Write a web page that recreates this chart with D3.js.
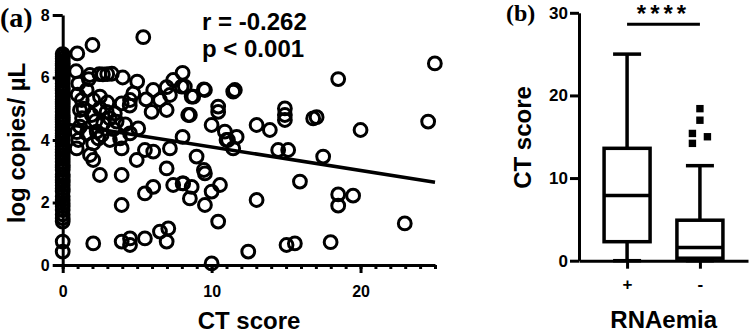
<!DOCTYPE html>
<html>
<head>
<meta charset="utf-8">
<script src="https://cdn.jsdelivr.net/npm/d3@7"></script>
<style>
body { margin: 0; background: #fff; }
svg { display: block; }
text { font-family: "Liberation Sans", Arial, sans-serif; font-weight: bold; fill: #000; }
.axis path, .axis line { stroke: #000; stroke-width: 3; }
</style>
</head>
<body>
<svg width="749" height="333"></svg>
<script>
// ---- panel (a): RNA load vs CT score ----
var zeroScoreLoads = [0.43, 0.75, 1.39, 1.5, 1.62, 1.76, 1.88, 1.97, 2.08, 2.2, 2.35, 2.45, 2.55, 2.65, 2.72,
  2.82, 2.9, 3.04, 3.12, 3.2, 3.3, 3.4, 3.5, 3.6, 3.7, 3.8, 3.9, 4.0, 4.08, 4.15, 4.22, 4.3, 4.4, 4.5, 4.58,
  4.65, 4.72, 4.8, 4.9, 5.0, 5.08, 5.15, 5.22, 5.3, 5.4, 5.5, 5.58, 5.65, 5.72, 5.8, 5.9, 6.0, 6.08, 6.15,
  6.22, 6.3, 6.38, 6.45, 6.52, 6.6, 6.68, 6.75];

var ctPoints = [
  [0.98, 6.77], [2.0, 7.04], [5.41, 7.29],
  [1.83, 6.08], [2.46, 6.11], [2.99, 6.11], [2.7, 6.1], [4.03, 6.0], [5.0, 5.87], [8.05, 6.15], [7.42, 5.92],
  [6.98, 5.69], [6.08, 5.6], [9.48, 5.62], [11.56, 5.6],
  [1.05, 5.81], [1.61, 5.6], [4.74, 5.49], [4.52, 5.28], [3.96, 5.17], [6.53, 5.28], [7.2, 5.44], [8.66, 5.39],
  [7.99, 5.71], [8.2, 5.71], [8.77, 5.39], [9.55, 5.6], [11.45, 5.55],
  [5.97, 4.9], [6.98, 4.96], [8.54, 4.8], [8.43, 4.8], [10.44, 5.07], [10.44, 4.9], [10.0, 4.48], [10.89, 4.27],
  [11.0, 4.0], [11.1, 4.0], [11.68, 4.1], [11.45, 3.73],
  [13.02, 4.48], [13.91, 4.32], [14.92, 5.01], [14.92, 4.8], [14.92, 4.64], [16.82, 4.69], [17.05, 4.73],
  [20.0, 4.32], [18.5, 5.95], [24.99, 6.45], [24.54, 4.59],
  [8.05, 4.1], [7.2, 3.73], [6.08, 3.63], [5.52, 3.68], [4.97, 3.36],
  [1.28, 5.28], [2.05, 5.28], [2.5, 5.39], [2.5, 5.01], [1.16, 4.96], [1.95, 4.8], [2.95, 4.9], [3.17, 4.69],
  [3.62, 4.59], [2.72, 4.53], [1.16, 4.43], [1.61, 4.21], [2.28, 4.27], [2.62, 4.16], [3.17, 4.0], [3.85, 4.05],
  [4.52, 4.21], [5.07, 4.37], [1.05, 4.0], [2.05, 3.89], [1.83, 3.52], [0.94, 3.73], [3.96, 3.73], [4.5, 5.1],
  [5.6, 5.3], [3.5, 4.85], [1.0, 5.45], [1.4, 5.0], [2.2, 4.6], [3.0, 5.2], [1.3, 4.7], [0.95, 4.25],
  [2.4, 4.05], [3.4, 4.35], [4.2, 4.5], [1.75, 5.95], [3.3, 6.12], [0.9, 6.2],
  [2.05, 3.36], [2.5, 2.88], [3.96, 2.88], [6.98, 3.09], [5.52, 2.29], [6.08, 2.5], [7.42, 2.56], [8.05, 2.61],
  [8.66, 2.5], [8.54, 2.13], [9.48, 3.04], [9.55, 2.93], [9.55, 1.92], [10.0, 2.35], [10.56, 2.56], [10.44, 1.39],
  [8.99, 3.47], [8.09, 2.61],
  [3.96, 1.92], [2.05, 0.69], [3.96, 0.75], [4.52, 0.85], [4.52, 0.64], [5.52, 0.85], [6.53, 1.07], [7.09, 1.17],
  [6.98, 0.75], [10.0, 0.05], [12.46, 0.43], [13.02, 2.08],
  [14.47, 3.68], [15.14, 3.68], [15.93, 2.67], [15.03, 0.64], [15.59, 0.69], [17.49, 3.47], [18.5, 2.26],
  [19.5, 2.22], [18.5, 1.9], [22.97, 1.33], [17.99, 0.73]
];

var fitLine = [[0, 4.53], [25, 2.65]];
var statLines = ["r = -0.262", "p < 0.001"];
var aYTicks = [0, 2, 4, 6, 8];
var aXMajor = [0, 10, 20];

// ---- panel (b): CT score by RNAemia ----
var groups = ["+", "-"];
var boxMin = [0, 0];
var boxQ1 = [2.3, 0.3];
var boxMed = [7.9, 1.6];
var boxQ3 = [13.6, 4.9];
var boxMax = [25, 11.5];
var outlierVals = [18.4, 17.0, 15.4, 14.2, 15.0];
var outlierCol = [0, 0, -1, -1, 1];   // jitter column inside the "-" group
var bYTicks = [0, 10, 20, 30];

function main() {
  var svg = d3.select("svg");

  // ===== panel a =====
  var x = d3.scaleLinear().domain([0, 25]).range([62.7, 435]);
  var y = d3.scaleLinear().domain([0, 8]).range([265, 15]);

  var ga = svg.append("g");

  ga.append("g")
      .attr("class", "axis")
      .attr("transform", "translate(0," + y(0) + ")")
      .call(d3.axisBottom(x).tickValues(d3.range(0, 26)).tickSize(4).tickSizeOuter(0).tickFormat(""));

  ga.append("g")
      .attr("class", "axis")
      .attr("transform", "translate(0," + y(0) + ")")
      .call(d3.axisBottom(x).tickValues(aXMajor).tickSize(8).tickSizeOuter(0).tickPadding(12.6))
    .call(function(g) { g.select(".domain").remove(); })
    .selectAll("text")
      .attr("font-size", 16);

  ga.append("g")
      .attr("class", "axis")
      .attr("transform", "translate(" + x(0) + ",0)")
      .call(d3.axisLeft(y).tickValues(aYTicks).tickSize(10).tickSizeOuter(0).tickPadding(3))
    .selectAll("text")
      .attr("font-size", 16);

  ga.selectAll("text").attr("font-family", null);

  var pts = zeroScoreLoads.map(function(v) { return [0, v]; }).concat(ctPoints);

  ga.append("g")
    .selectAll("circle")
    .data(pts)
    .enter().append("circle")
      .attr("cx", function(d) { return x(d[0]); })
      .attr("cy", function(d) { return y(d[1]); })
      .attr("r", 6.4)
      .attr("fill", "none")
      .attr("stroke", "#000")
      .attr("stroke-width", 3);

  ga.append("path")
      .datum(fitLine)
      .attr("fill", "none")
      .attr("stroke", "#000")
      .attr("stroke-width", 3.5)
      .attr("d", d3.line().x(function(d) { return x(d[0]); }).y(function(d) { return y(d[1]); }));

  ga.selectAll(".stat")
    .data(statLines)
    .enter().append("text")
      .attr("class", "stat")
      .attr("x", 202)
      .attr("y", function(d, i) { return 30 + i * 26.5; })
      .attr("font-size", 24)
      .text(function(d) { return d; });

  ga.append("text")
      .attr("x", 249)
      .attr("y", 329)
      .attr("text-anchor", "middle")
      .attr("font-size", 24)
      .text("CT score");

  ga.append("text")
      .attr("transform", "translate(25,143) rotate(-90)")
      .attr("text-anchor", "middle")
      .attr("font-size", 24)
      .text("log copies/ µL");

  ga.append("text")
      .attr("x", 0)
      .attr("y", 27)
      .attr("font-size", 28)
      .style("font-family", "'Liberation Serif', 'Times New Roman', serif")
      .text("(a)");

  // ===== panel b =====
  var xb = d3.scalePoint().domain(groups).range([579, 748]).padding(0.66);
  var yb = d3.scaleLinear().domain([0, 30]).range([260.7, 12.8]);
  var boxW = 46, capW = 28;

  var gb = svg.append("g");

  gb.append("g")
      .attr("class", "axis")
      .attr("transform", "translate(0," + yb(0) + ")")
      .call(d3.axisBottom(xb).tickSize(8).tickSizeOuter(0).tickPadding(9))
    .selectAll("text")
      .attr("font-size", 17);

  gb.append("g")
      .attr("class", "axis")
      .attr("transform", "translate(" + xb.range()[0] + ",0)")
      .call(d3.axisLeft(yb).tickValues(bYTicks).tickSize(9).tickSizeOuter(0).tickPadding(2))
    .selectAll("text")
      .attr("font-size", 17);

  gb.selectAll("text").attr("font-family", null);

  var boxes = groups.map(function(g, i) {
    return { key: g, min: boxMin[i], q1: boxQ1[i], med: boxMed[i], q3: boxQ3[i], max: boxMax[i] };
  });

  var bx = gb.selectAll(".box")
    .data(boxes)
    .enter().append("g")
      .attr("class", "box")
      .attr("fill", "none")
      .attr("stroke", "#000")
      .attr("stroke-width", 3.5);

  bx.append("line")
      .attr("x1", function(d) { return xb(d.key); })
      .attr("x2", function(d) { return xb(d.key); })
      .attr("y1", function(d) { return yb(d.q3); })
      .attr("y2", function(d) { return yb(d.max); });
  bx.append("line")
      .attr("x1", function(d) { return xb(d.key); })
      .attr("x2", function(d) { return xb(d.key); })
      .attr("y1", function(d) { return yb(d.q1); })
      .attr("y2", function(d) { return yb(d.min); });
  bx.append("line")
      .attr("x1", function(d) { return xb(d.key) - capW / 2; })
      .attr("x2", function(d) { return xb(d.key) + capW / 2; })
      .attr("y1", function(d) { return yb(d.max); })
      .attr("y2", function(d) { return yb(d.max); });
  bx.append("line")
      .attr("x1", function(d) { return xb(d.key) - capW / 2; })
      .attr("x2", function(d) { return xb(d.key) + capW / 2; })
      .attr("y1", function(d) { return yb(d.min); })
      .attr("y2", function(d) { return yb(d.min); });
  bx.append("rect")
      .attr("x", function(d) { return xb(d.key) - boxW / 2; })
      .attr("y", function(d) { return yb(d.q3); })
      .attr("width", boxW)
      .attr("height", function(d) { return yb(d.q1) - yb(d.q3); })
      .attr("fill", "#fff");
  bx.append("line")
      .attr("x1", function(d) { return xb(d.key) - boxW / 2; })
      .attr("x2", function(d) { return xb(d.key) + boxW / 2; })
      .attr("y1", function(d) { return yb(d.med); })
      .attr("y2", function(d) { return yb(d.med); });

  gb.selectAll(".out")
    .data(outlierVals)
    .enter().append("rect")
      .attr("class", "out")
      .attr("x", function(d, i) { return xb("-") + outlierCol[i] * 7.5 - 3.7; })
      .attr("y", function(d) { return yb(d) - 3.7; })
      .attr("width", 7.4)
      .attr("height", 7.4)
      .attr("fill", "#000");

  // significance bar
  gb.append("line")
      .attr("x1", xb("+"))
      .attr("x2", xb("-"))
      .attr("y1", 24.3)
      .attr("y2", 24.3)
      .attr("stroke", "#000")
      .attr("stroke-width", 3);

  gb.append("text")
      .attr("x", (xb("+") + xb("-")) / 2)
      .attr("y", 22)
      .attr("text-anchor", "middle")
      .attr("font-size", 24)
      .attr("letter-spacing", 4)
      .text("****");

  gb.append("text")
      .attr("x", 663.7)
      .attr("y", 328)
      .attr("text-anchor", "middle")
      .attr("font-size", 24)
      .text("RNAemia");

  gb.append("text")
      .attr("transform", "translate(531,137.5) rotate(-90)")
      .attr("text-anchor", "middle")
      .attr("font-size", 24)
      .text("CT score");

  gb.append("text")
      .attr("x", 506)
      .attr("y", 21)
      .attr("font-size", 24)
      .style("font-family", "'Liberation Serif', 'Times New Roman', serif")
      .text("(b)");
}
main();
</script>
</body>
</html>
